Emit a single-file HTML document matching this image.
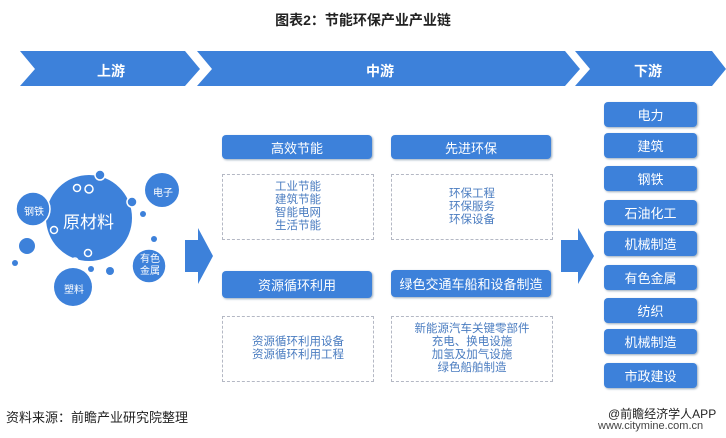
<!DOCTYPE html>
<html><head><meta charset="utf-8"><style>
body{margin:0;width:726px;height:438px;background:#fff;position:relative;overflow:hidden;font-family:"Liberation Sans","Noto Sans CJK SC",sans-serif}
.t{position:absolute;white-space:nowrap}
.b{position:absolute;background:#3d81da;border-radius:4px;color:#fff;font-size:13px;display:flex;align-items:center;justify-content:center;box-shadow:1px 1px 2px #9ab}
.d{position:absolute;border:1px dashed #b4b8c4;color:#4a7cc0;font-size:11.5px;line-height:13px;display:flex;align-items:center;justify-content:center;text-align:center}
</style></head><body>
<div class="t" style="left:0;width:726px;text-align:center;top:10px;font-size:14px;font-weight:bold;color:#222">图表2：节能环保产业产业链</div>
<svg width="726" height="438" style="position:absolute;left:0;top:0">
<g fill="#3d81da">
<polygon points="20,51 185,51 200,69 185,86 20,86 35,69"/>
<polygon points="197,51 565,51 580,69 565,86 197,86 212,69"/>
<polygon points="575,51 712,51 726,69 712,86 575,86 590,69"/>
<polygon points="185,240 198,240 198,228 213,256 198,284 198,272 185,272"/>
<polygon points="561,240 578,240 578,228 594,256 578,284 578,272 561,272"/>
<circle cx="89" cy="218" r="44" stroke="#fff" stroke-width="2"/>
<circle cx="33" cy="209" r="17" stroke="#fff" stroke-width="1.5"/>
<circle cx="162" cy="190" r="17"/>
<circle cx="149" cy="266" r="17" stroke="#fff" stroke-width="1.5"/>
<circle cx="73" cy="287" r="19"/>
<circle cx="27" cy="246" r="8"/>
<circle cx="100" cy="175" r="5" stroke="#fff" stroke-width="1.5"/>
<circle cx="132" cy="202" r="5" stroke="#fff" stroke-width="1.5"/>
<circle cx="143" cy="214" r="3"/>
<circle cx="154" cy="239" r="3"/>
<circle cx="15" cy="263" r="3"/>
<circle cx="91" cy="269" r="3"/>
<circle cx="110" cy="271" r="4"/>
</g>
<g fill="none" stroke="#fff" stroke-width="1.5">
<circle cx="77" cy="188" r="3.5"/><circle cx="89" cy="189" r="4"/><circle cx="54" cy="230" r="3.5"/><circle cx="88" cy="253" r="3.5"/><circle cx="75" cy="261" r="3"/>
</g>
</svg>
<div class="t" style="left:97px;top:61px;color:#fff;font-size:14px;font-weight:bold">上游</div>
<div class="t" style="left:366px;top:61px;color:#fff;font-size:14px;font-weight:bold">中游</div>
<div class="t" style="left:634px;top:61px;color:#fff;font-size:14px;font-weight:bold">下游</div>
<div class="t" style="left:63px;top:208px;color:#fff;font-size:17px">原材料</div>
<div class="t" style="left:24px;top:203px;color:#fff;font-size:10px">钢铁</div>
<div class="t" style="left:153px;top:184px;color:#fff;font-size:10px">电子</div>
<div class="t" style="left:140px;top:254px;color:#fff;font-size:10px;line-height:12px;text-align:center">有色<br>金属</div>
<div class="t" style="left:64px;top:281px;color:#fff;font-size:10px">塑料</div>
<div class="b" style="left:222px;top:135px;width:150px;height:24px">高效节能</div>
<div class="b" style="left:391px;top:135px;width:160px;height:24px">先进环保</div>
<div class="b" style="left:222px;top:271px;width:150px;height:27px">资源循环利用</div>
<div class="b" style="left:391px;top:270px;width:160px;height:27px">绿色交通车船和设备制造</div>
<div class="d" style="left:222px;top:174px;width:150px;height:64px">工业节能<br>建筑节能<br>智能电网<br>生活节能</div>
<div class="d" style="left:391px;top:174px;width:160px;height:64px">环保工程<br>环保服务<br>环保设备</div>
<div class="d" style="left:222px;top:316px;width:150px;height:64px">资源循环利用设备<br>资源循环利用工程</div>
<div class="d" style="left:391px;top:316px;width:160px;height:64px">新能源汽车关键零部件<br>充电、换电设施<br>加氢及加气设施<br>绿色船舶制造</div>
<div class="b" style="left:604px;top:102px;width:93px;height:25px">电力</div>
<div class="b" style="left:604px;top:133px;width:93px;height:25px">建筑</div>
<div class="b" style="left:604px;top:166px;width:93px;height:25px">钢铁</div>
<div class="b" style="left:604px;top:200px;width:93px;height:25px">石油化工</div>
<div class="b" style="left:604px;top:231px;width:93px;height:25px">机械制造</div>
<div class="b" style="left:604px;top:265px;width:93px;height:25px">有色金属</div>
<div class="b" style="left:604px;top:298px;width:93px;height:25px">纺织</div>
<div class="b" style="left:604px;top:329px;width:93px;height:25px">机械制造</div>
<div class="b" style="left:604px;top:363px;width:93px;height:25px">市政建设</div>
<div class="t" style="left:6px;top:407px;font-size:13px;color:#222">资料来源：前瞻产业研究院整理</div>
<div class="t" style="left:608px;top:405px;font-size:12px;color:#222">@前瞻经济学人APP</div>
<div class="t" style="left:598px;top:420px;font-size:11px;color:#444">www.citymine.com.cn</div>
</body></html>
